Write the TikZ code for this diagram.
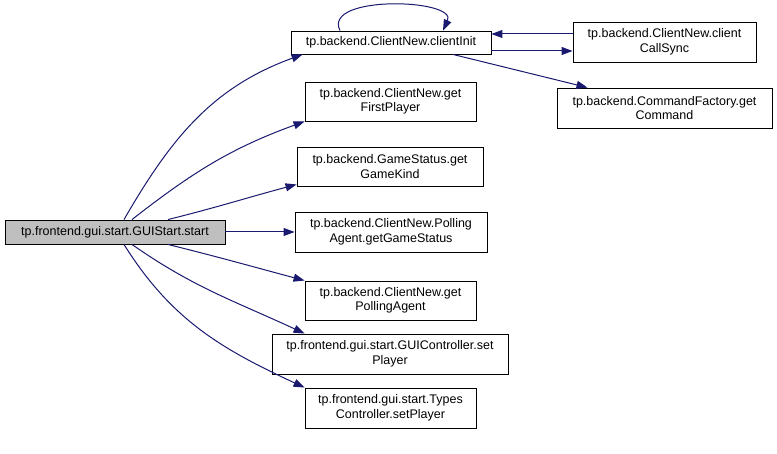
\documentclass[tikz,border=0pt]{standalone}
\usepackage{fontspec}
\setmainfont{Liberation Sans}
\usetikzlibrary{arrows.meta}
\definecolor{edgeblue}{HTML}{191970}
\definecolor{startgray}{HTML}{BFBFBF}
\begin{document}
\begin{tikzpicture}[x=1pt,y=-1pt,
  box/.style={draw=black, line width=0.9pt, fill=white, inner sep=0pt, align=center,
    font=\fontsize{12.5}{14.5}\selectfont},
  call/.style={draw=edgeblue, line width=1pt, -{Triangle[length=11pt,width=8pt]}}]
\useasboundingbox (0,0) rectangle (777,454);
\node[box, fill=startgray, minimum width=220pt, minimum height=24pt] (start) at (115,232) {tp.frontend.gui.start.GUIStart.start};
\node[box, minimum width=200pt, minimum height=23pt] (init) at (391,42.5) {tp.backend.ClientNew.clientInit};
\node[box, minimum width=183pt, minimum height=40pt] (sync) at (664.5,42) {tp.backend.ClientNew.client\\CallSync};
\node[box, minimum width=215pt, minimum height=40pt] (cmd) at (664.5,108) {tp.backend.CommandFactory.get\\Command};
\node[box, minimum width=171pt, minimum height=39pt] (first) at (390.5,101.5) {tp.backend.ClientNew.get\\FirstPlayer};
\node[box, minimum width=186pt, minimum height=39pt] (kind) at (390,166.5) {tp.backend.GameStatus.get\\GameKind};
\node[box, minimum width=192pt, minimum height=40pt] (status) at (391,232) {tp.backend.ClientNew.Polling\\Agent.getGameStatus};
\node[box, minimum width=171pt, minimum height=39pt] (agent) at (390.5,300.5) {tp.backend.ClientNew.get\\PollingAgent};
\node[box, minimum width=236pt, minimum height=40pt] (gui) at (390,354) {tp.frontend.gui.start.GUIController.set\\Player};
\node[box, minimum width=171pt, minimum height=40pt] (types) at (390.5,408) {tp.frontend.gui.start.Types\\Controller.setPlayer};
% edges from start
\draw[call] ([xshift=9pt]start.north) to[out=60,in=200] ([xshift=12pt]init.south west);
\draw[call] ([xshift=17pt]start.north) to[out=38,in=200] (first.south west);
\draw[call] ([xshift=53pt]start.north) to[out=14,in=195] ([yshift=2pt]kind.south west);
\draw[call] (start.east) -- (status.west);
\draw[call] ([xshift=53pt]start.south) to[out=-14,in=165] (agent.north west);
\draw[call] ([xshift=17pt]start.south) to[out=-35,in=155] ([xshift=33pt]gui.north west);
\draw[call] ([xshift=9pt]start.south) to[out=-58,in=155] (types.north west);
% clientInit edges
\draw[call] ([xshift=-51pt]init.north) .. controls +(-18,-36) and +(15,-32) .. ([xshift=52pt]init.north);
\draw[call] ([yshift=-8.5pt]init.east) -- ([yshift=-8.5pt]init.east -| sync.west);
\draw[call] ([yshift=8.5pt]init.east -| sync.west) -- ([yshift=8.5pt]init.east);
\draw[call] ([xshift=62pt]init.south) -- ([xshift=-77pt]cmd.north);
\end{tikzpicture}
\end{document}
